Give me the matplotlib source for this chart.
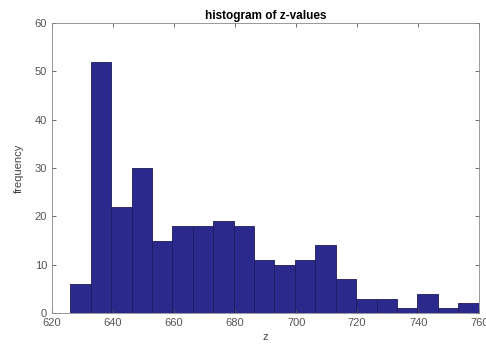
import matplotlib
matplotlib.use("Agg")
import matplotlib.pyplot as plt
import numpy as np

# histogram counts (20 equal bins)
counts = [6, 52, 22, 30, 15, 18, 18, 19, 18, 11, 10, 11, 14, 7, 3, 3, 1, 4, 1, 2]
z_min, z_max = 626.0, 759.8
x_ticks = [620, 640, 660, 680, 700, 720, 740, 760]
y_ticks = [0, 10, 20, 30, 40, 50, 60]

edges = np.linspace(z_min, z_max, len(counts) + 1)
centers = (edges[:-1] + edges[1:]) / 2

plt.rcParams['font.family'] = ['Liberation Sans', 'DejaVu Sans']

fig = plt.figure(figsize=(4.86, 3.51), dpi=100)
ax = fig.add_axes([0.107, 0.108, 0.879, 0.826])

# draw the bars with the library's histogram
ax.hist(centers, bins=edges, weights=counts, color='#2b2a8c',
        edgecolor='#1c1b5e', linewidth=0.6)

ax.set_xlim(620, 760)
ax.set_ylim(0, 60)
ax.set_xticks(x_ticks)
ax.set_yticks(y_ticks)
ax.tick_params(direction='in', top=True, right=True, labelsize=8,
               colors='#555555', length=3, width=0.6)
for s in ax.spines.values():
    s.set_color('#888888')
    s.set_linewidth(0.6)

ax.set_title('histogram of z-values', fontsize=8.5, fontweight='bold', pad=3)
ax.set_xlabel('z', fontsize=8, color='#444444', labelpad=3)
ax.set_ylabel('frequency', fontsize=8, color='#444444', labelpad=8)

fig.savefig('out.png', dpi=100)
